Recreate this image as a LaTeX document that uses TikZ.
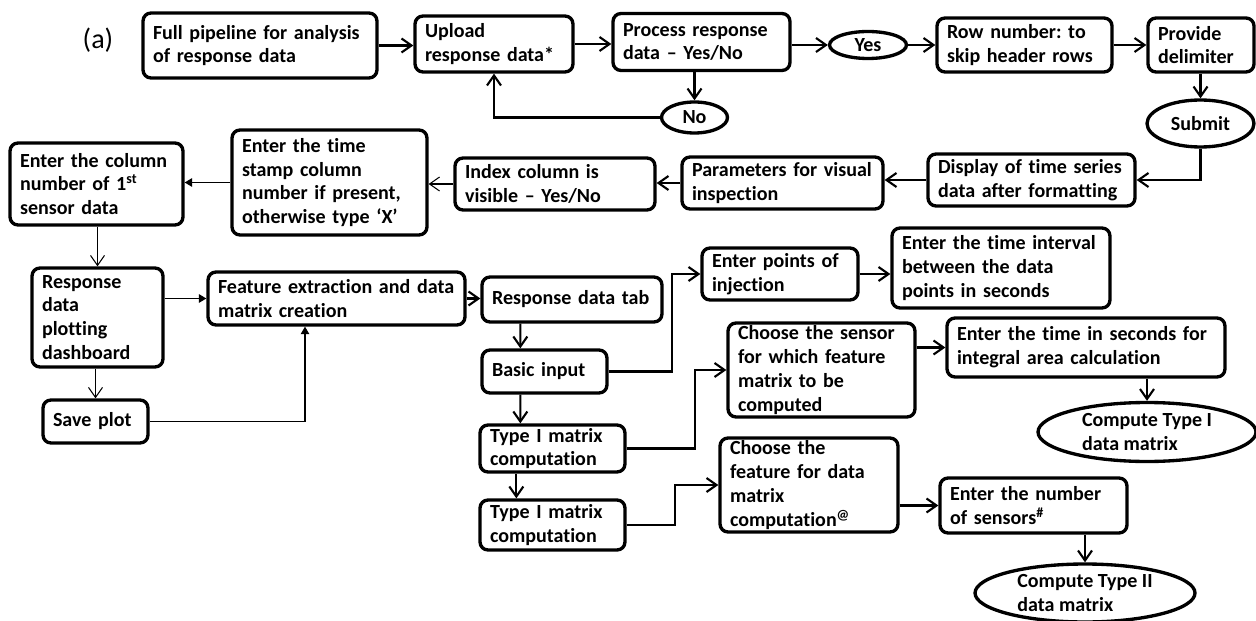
\documentclass[tikz,border=0pt]{standalone}
\usepackage{fontspec}
\setmainfont{Carlito}[Ligatures=NoCommon]
\frenchspacing
\usetikzlibrary{arrows.meta, shapes.geometric, positioning, calc}
\tikzset{
  box/.style={draw, rounded corners=0.16cm, line width=1.9pt, align=left, inner xsep=0.2cm, inner ysep=0pt, font=\bfseries\fontsize{11.4}{13.6}\selectfont},
  oval/.style={draw, ellipse, line width=1.9pt, align=left, inner sep=0pt, font=\bfseries\fontsize{11.4}{13.6}\selectfont},
  con/.style={line width=1.2pt, -{Straight Barb[length=0.2cm, width=0.28cm]}},
  thincon/.style={line width=0.6pt, -{Straight Barb[length=0.2cm, width=0.28cm]}},
  fillcon/.style={line width=0.9pt, -{Triangle[length=0.15cm, width=0.17cm]}},
}
\begin{document}
\begin{tikzpicture}[x=0.02cm, y=-0.02cm]
      \useasboundingbox (0,0) rectangle (1256,621);

      \node[font=\fontsize{16}{18}\selectfont] (lbl) at (98,40) {(a)};

      \node[box, minimum width=4.68cm, text width=4.28cm, minimum height=1.3cm] (b1) at (260,45.5) {Full pipeline for analysis\\of response data};
      \node[box, minimum width=3.16cm, text width=2.76cm, minimum height=1.12cm] (b2) at (494,44) {Upload\\response data*};
      \node[box, minimum width=3.54cm, text width=3.14cm, minimum height=1.14cm] (b3) at (701.5,42) {Process response\\data – Yes/No};
      \node[oval, minimum width=1.32cm, minimum height=0.62cm] (no) at (694.5,117.5) {No};
      \node[oval, minimum width=1.54cm, minimum height=0.54cm] (yes) at (868,45) {Yes};
      \node[box, minimum width=3.5cm, text width=3.1cm, minimum height=1.08cm] (b4) at (1024.5,45) {Row number: to\\skip header rows};
      \node[box, minimum width=2.12cm, text width=1.72cm, minimum height=1.08cm] (b5) at (1201,45) {Provide\\delimiter};
      \node[oval, minimum width=2.14cm, minimum height=0.94cm] (submit) at (1200.5,123.5) {Submit};

      \node[box, minimum width=4.14cm, text width=3.74cm, minimum height=1.04cm] (b6) at (1031.5,180) {Display of time series\\data after formatting};
      \node[box, minimum width=4.02cm, text width=3.62cm, minimum height=1.04cm] (b7) at (782.5,183) {Parameters for visual\\inspection};
      \node[box, minimum width=4cm, text width=3.6cm, minimum height=1.04cm] (b8) at (555,184) {Index column is\\visible – Yes/No};
      \node[box, minimum width=3.9cm, text width=3.5cm, minimum height=2.1cm] (b9) at (329.5,182.5) {Enter the time\\stamp column\\number if present,\\otherwise type ‘X’};
      \node[box, minimum width=3.46cm, text width=3.06cm, minimum height=1.64cm] (b10) at (96.5,184) {Enter the column\\number of 1\textsuperscript{st}\\sensor data};

      \node[box, minimum width=2.62cm, text width=2.22cm, minimum height=1.98cm] (b11) at (97.5,317.5) {Response\\data\\plotting\\dashboard};
      \node[box, minimum width=5.14cm, text width=4.74cm, minimum height=1.06cm] (b12) at (336.5,298.5) {Feature extraction and data\\matrix creation};
      \node[box, minimum width=2.1cm, text width=1.7cm, minimum height=0.86cm] (b13) at (95.5,421.5) {Save plot};
      \node[box, minimum width=3.6cm, text width=3.2cm, minimum height=0.9cm] (b14) at (572,299.5) {Response data tab};
      \node[box, minimum width=2.5cm, text width=2.1cm, minimum height=0.86cm] (b15) at (544.5,371.5) {Basic input};
      \node[box, minimum width=3.12cm, text width=2.72cm, minimum height=1.04cm] (b16) at (780,274) {Enter points of\\injection};
      \node[box, minimum width=4.36cm, text width=3.96cm, minimum height=1.6cm] (b17) at (1001,268) {Enter the time interval\\between the data\\points in seconds};
      \node[box, minimum width=2.9cm, text width=2.5cm, minimum height=0.94cm] (b18) at (552.5,448.5) {Type I matrix\\computation};
      \node[box, minimum width=3.74cm, text width=3.34cm, minimum height=1.88cm] (b19) at (821.5,370) {Choose the sensor\\for which feature\\matrix to be\\computed};
      \node[box, minimum width=5.56cm, text width=5.16cm, minimum height=1.18cm] (b20) at (1086,347.5) {Enter the time in seconds for\\integral area calculation};
      \node[oval, minimum width=4.36cm, minimum height=1.18cm] (e1) at (1147,432) {Compute Type I\\data matrix};
      \node[box, minimum width=2.9cm, text width=2.5cm, minimum height=1cm] (b21) at (552.5,525) {Type I matrix\\computation};
      \node[box, minimum width=3.56cm, text width=3.16cm, minimum height=1.88cm] (b22) at (809,485) {Choose the\\feature for data\\matrix\\computation\textsuperscript{@}};
      \node[box, minimum width=3.74cm, text width=3.34cm, minimum height=1.1cm] (b23) at (1033.5,505.5) {Enter the number\\of sensors\textsuperscript{\#}};
      \node[oval, minimum width=4.4cm, minimum height=1.16cm] (e2) at (1085,593) {Compute Type II\\data matrix};

      \draw[con] (b1.east) -- (b1.east -| b2.west);
      \draw[con] (b2.east) -- (b2.east -| b3.west);
      \draw[con] (b3.east |- yes) -- (yes.west);
      \draw[con] (yes.east) -- (yes.east -| b4.west);
      \draw[con] (b4.east) -- (b4.east -| b5.west);
      \draw[con] (b3.south -| no) -- (no.north);
      \draw[con] (no.west) -| (b2.south);
      \draw[con] (b5.south -| submit) -- (submit.north);
      \draw[con] (submit.south) |- (b6.east);
      \draw[con] (b6.west) -- (b6.west -| b7.east);
      \draw[con] (b7.west) -- (b7.west -| b8.east);
      \draw[thincon] (b8.west) -- (b8.west -| b9.east);
      \draw[fillcon] (b9.west) -- (b9.west -| b10.east);
      \draw[thincon] (b10.south -| b11) -- (b11.north);
      \draw[fillcon] (b11.east |- b12) -- (b12.west);
      \draw[thincon] (b11.south -| b13) -- (b13.north);
      \draw[fillcon, line width=0.6pt] (b13.east) -| ([xshift=-0.63cm]b12.south);
      \draw[con] (b12.east) -- (b12.east -| b14.west);
      \draw[con] ([xshift=0.8cm]b14.south west) -- ([xshift=0.8cm]b15.north west);
      \draw[con] ([xshift=0.8cm]b15.south west) -- ([xshift=0.84cm]b18.north west);
      \draw[con] ([xshift=0.76cm]b18.south west) -- ([xshift=0.76cm]b21.north west);
      \draw[con] (b15.east) -- ++(63,0) |- (b16.west);
      \draw[con] (b16.east) -- (b16.east -| b17.west);
      \draw[con] (b18.east) -- ++(68,0) |- (b19.west);
      \draw[con] (b19.east |- b20) -- (b20.west);
      \draw[con] (b20.south -| e1) -- (e1.north);
      \draw[con] (b21.east) -- ++(48,0) |- (b22.west);
      \draw[con] (b22.east |- b23) -- (b23.west);
      \draw[con] (b23.south -| e2) -- (e2.north);

    \end{tikzpicture}
\end{document}
